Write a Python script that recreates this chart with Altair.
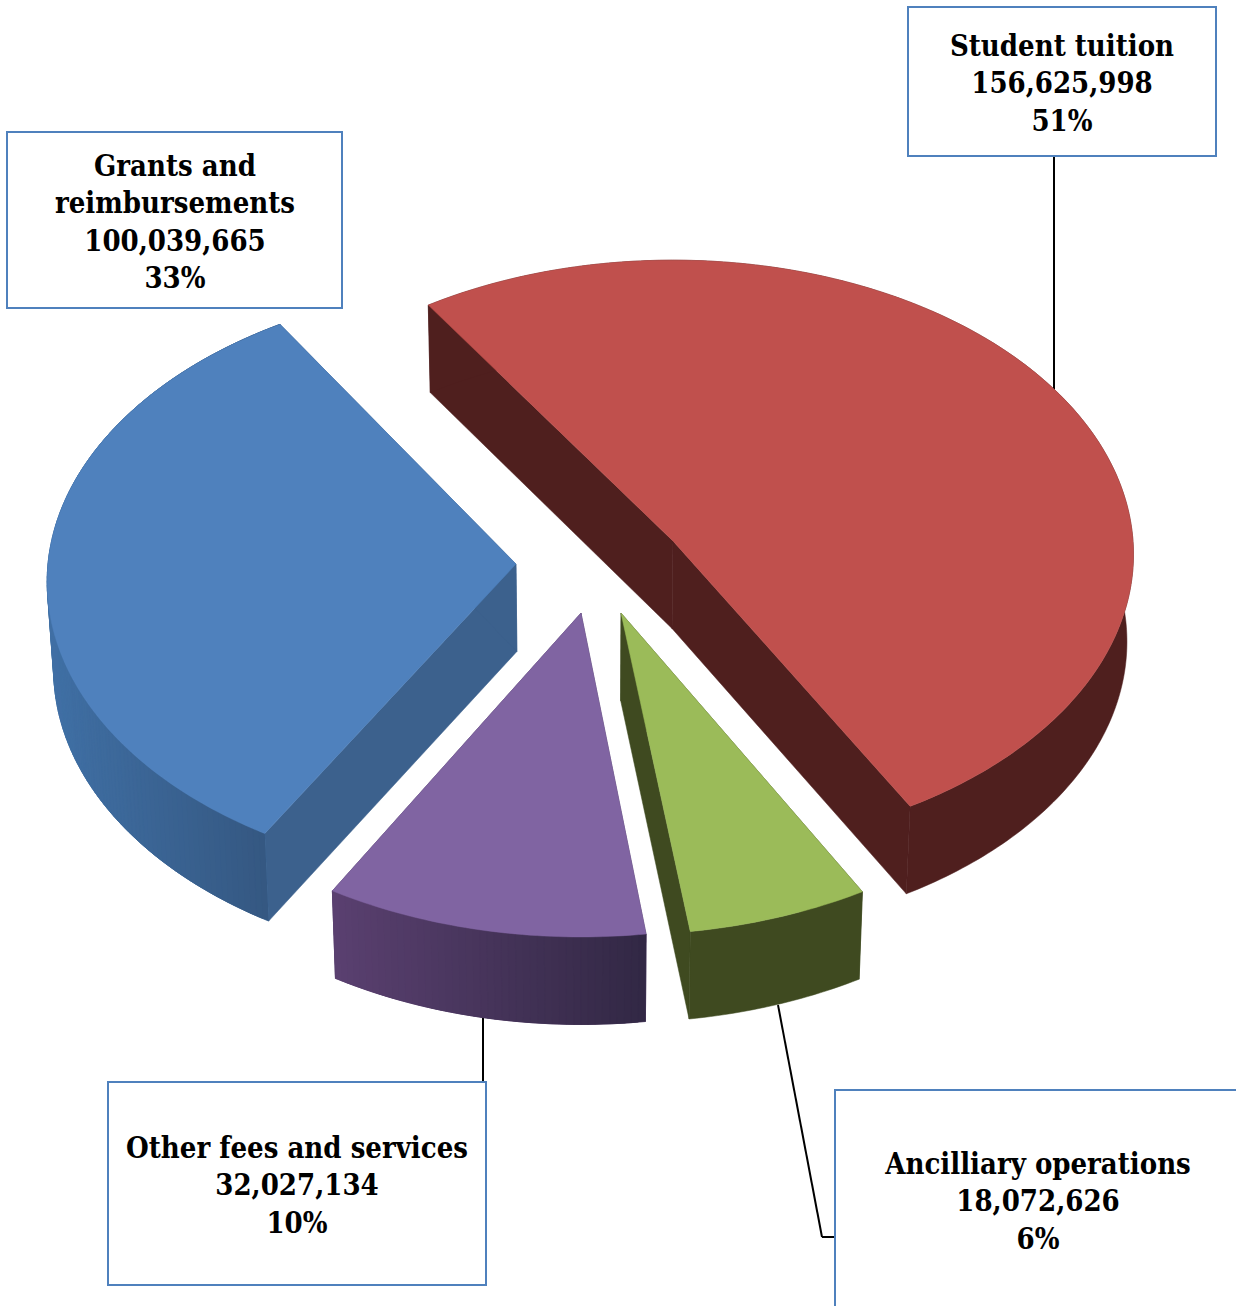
import math
import altair as alt
import pandas as pd

# Revenue sources, clockwise from the start of the pie
categories = ["Student tuition", "Ancilliary operations", "Other fees and services", "Grants and reimbursements"]
amounts = [156625998, 18072626, 32027134, 100039665]

# Exploded position of each slice's tip
tips_x = [673, 621, 581, 516]
tips_y = [541, 613, 613, 564]

# Each slice sits at a different distance from the viewer, so its projected radii differ a little
radius_x = [460, 469, 470, 468]
radius_y = [293.5, 302.5, 304.5, 297]
tilt = [0.045, 0.06, 0.06, 0.06]
turn_deg = [0, 0.5, 1, 1.5]

top_colors = ["#C0504D", "#9BBB59", "#8064A2", "#4F81BD"]
inner_wall_colors = ["#4F1F1E", "#3F4A20", "#4A3A60", "#3C618D"]
outer_wall_left = ["#4F1F1E", "#3F4A20", "#5A4070", "#4070A5"]
outer_wall_right = ["#4F1F1E", "#3F4A20", "#322844", "#34567F"]

# Callout boxes and text
box_left = [908, 835, 108, 7]
box_top = [7, 1090, 1082, 132]
box_right = [1216, 1245, 486, 342]
box_bottom = [156, 1320, 1285, 308]
text_x = [1062, 1038, 297, 175]
text_first_y = [46, 1164, 1148, 166]
text_lines = [
    ["Student tuition"],
    ["Ancilliary operations"],
    ["Other fees and services"],
    ["Grants and", "reimbursements"],
]

leader_x = [1054, 483, 778, 822]
leader_y = [156, 1016, 1005, 1237]
leader_x2 = [1054, 483, 822, 835]
leader_y2 = [393, 1082, 1237, 1237]

# Extrusion of the pie and its text spacing
DEPTH, SHRINK, VANISH_X = 87.5, 0.988, 590.0
START_DEG = -33.5
LINE_STEP = 37.6


def rim(i, deg):
    u, v = math.sin(math.radians(deg)), -math.cos(math.radians(deg))
    w = 1 - tilt[i] * v
    return (tips_x[i] + radius_x[i] * u / w, tips_y[i] + radius_y[i] * v / w)


def drop(p):
    return (VANISH_X + (p[0] - VANISH_X) * SHRINK, p[1] + DEPTH)


def poly(points, fill):
    ring = [list(p) for p in points] + [list(points[0])]
    return {"type": "Feature", "geometry": {"type": "Polygon", "coordinates": [ring]},
            "properties": {"fill": fill}}


def mix(a, b, t):
    ca = [int(a[i:i + 2], 16) for i in (1, 3, 5)]
    cb = [int(b[i:i + 2], 16) for i in (1, 3, 5)]
    return "#%02x%02x%02x" % tuple(round(x + (y - x) * t) for x, y in zip(ca, cb))


total = sum(amounts)
features = []
angle = START_DEG
for i, amount in enumerate(amounts):
    sweep = 360.0 * amount / total
    tip = (tips_x[i], tips_y[i])
    n = max(12, int(sweep * 1.2))
    first = angle + turn_deg[i]
    arc = [rim(i, first + sweep * k / n) for k in range(n + 1)]
    angle += sweep

    # Straight inner walls, then the curved rim, then the top face
    for end in (arc[0], arc[-1]):
        features.append(poly([tip, end, drop(end), drop(tip)], inner_wall_colors[i]))
    features.append(poly(arc + [drop(p) for p in reversed(arc)], outer_wall_left[i]))
    if outer_wall_left[i] != outer_wall_right[i]:
        # Shaded rim: each strip overlaps the next along the arc so no seams show
        xs = [p[0] for p in arc]
        lo, hi = min(xs), max(xs)
        for k in range(n):
            a = arc[k]
            b = arc[min(k + 2, n)]
            t = ((arc[k][0] + arc[k + 1][0]) / 2 - lo) / (hi - lo)
            features.append(poly([a, b, drop(b), drop(a)], mix(outer_wall_left[i], outer_wall_right[i], t)))
    features.append(poly([tip] + arc, top_colors[i]))

px = alt.X("x:Q", scale=None, axis=None)
py = alt.Y("y:Q", scale=None, axis=None)

leaders = alt.Chart(pd.DataFrame({"x": leader_x, "y": leader_y, "x2": leader_x2, "y2": leader_y2})).mark_rule(
    color="#000000", strokeWidth=2
).encode(px, py, x2="x2:Q", y2="y2:Q")

pie = alt.Chart(alt.Data(values=features)).mark_geoshape(strokeWidth=0.5).encode(
    color=alt.Color("properties.fill:N", scale=None, legend=None),
    stroke=alt.Stroke("properties.fill:N", scale=None, legend=None),
).project(type="identity", scale=1, translate=[0, 0])

boxes = alt.Chart(pd.DataFrame({"x": box_left, "y": box_top, "x2": box_right, "y2": box_bottom})).mark_rect(
    fill="#FFFFFF", stroke="#4F81BD", strokeWidth=2
).encode(px, py, x2="x2:Q", y2="y2:Q")

rows = []
for i, amount in enumerate(amounts):
    lines = text_lines[i] + [f"{amount:,}", f"{round(100 * amount / total)}%"]
    for j, line in enumerate(lines):
        rows.append({"x": text_x[i], "y": text_first_y[i] + 0.5 + j * LINE_STEP, "line": line})

labels = alt.Chart(pd.DataFrame(rows)).mark_text(
    font="DejaVu Serif Condensed", fontWeight="bold", fontSize=29, color="#000000",
    align="center", baseline="middle"
).encode(px, py, text="line:N")

chart = alt.layer(leaders, pie, boxes, labels).properties(
    width=1236, height=1306, padding=0, background="#FFFFFF",
    autosize=alt.AutoSizeParams(type="none"),
).configure_view(stroke=None)

chart.save("out.html", embed_options={"renderer": "svg", "actions": False})
